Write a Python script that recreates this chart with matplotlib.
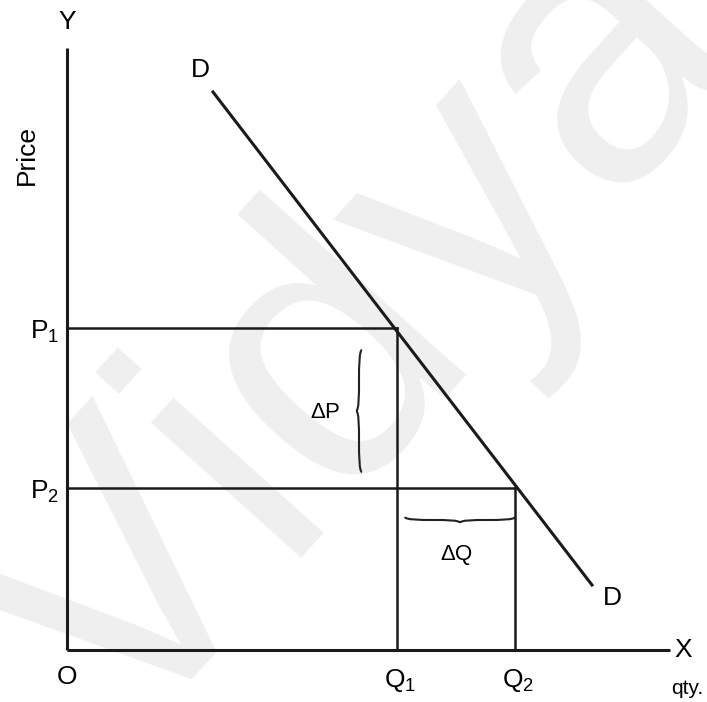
import numpy as np
import matplotlib.pyplot as plt
from matplotlib.path import Path
from matplotlib.patches import PathPatch

plt.rcParams['font.family'] = ['Liberation Sans', 'DejaVu Sans']
plt.rcParams['mathtext.default'] = 'regular'

# demand curve end points (quantity, price)
demand_q = [14.6, 52.5]
demand_p = [55.8, 6.5]

# the two price / quantity points on the curve
price_labels = ['P$_1$', 'P$_2$']
prices = [32.2, 16.2]
qty_labels = ['Q$_1$', 'Q$_2$']
quantities = [33.0, 44.8]

x_max = 60.3
y_max = 60.2


def brace(ax, x0, y0, x1, y1, depth, lw=1.5):
    # curly brace from (x0,y0) to (x1,y1), cusp pushed sideways by depth
    p0 = np.array([x0, y0], float)
    p1 = np.array([x1, y1], float)
    d = p1 - p0
    n = np.array([-d[1], d[0]]) / np.hypot(*d) * depth
    m = (p0 + p1) / 2
    q1 = p0 + d * 0.25 + n * 0.5
    q2 = p1 - d * 0.25 + n * 0.5
    verts = [p0, p0 + n * 0.45, q1 - d * 0.12, q1,
             q1 + d * 0.12, m + n * 0.5, m + n,
             m + n, m + n * 0.5, q2 - d * 0.12,
             q2, q2 + d * 0.12, p1 + n * 0.45, p1]
    codes = ([Path.MOVETO] + [Path.CURVE4] * 6
             + [Path.MOVETO] + [Path.CURVE4] * 6)
    ax.add_patch(PathPatch(Path(verts, codes), fill=False, lw=lw, color='#222222'))


fig = plt.figure(figsize=(7.07, 7.02), dpi=100)
ax = fig.add_axes([0, 0, 1, 1])
ax.set_xlim(-6.7, 64.0)
ax.set_ylim(-5.2, 65.0)
ax.axis('off')

# watermark
ax.text(29.5, 31.0, 'Vidya', fontsize=275, rotation=48, color='#efefef',
        ha='center', va='center', zorder=0, clip_on=True)

lc = '#1a1a1a'
# axes
ax.plot([0, 0], [0, y_max], color=lc, lw=2.2, solid_capstyle='butt')
ax.plot([0, x_max], [0, 0], color=lc, lw=2.2, solid_capstyle='butt')

# demand curve
ax.plot(demand_q, demand_p, color=lc, lw=2.2)

# guide lines
for q, p in zip(quantities, prices):
    ax.plot([0, q], [p, p], color=lc, lw=1.8)
    ax.plot([q, q], [0, p], color=lc, lw=1.8)

# braces
brace(ax, 29.5, prices[0] - 2.2, 29.5, prices[1] + 1.6, -0.6)
brace(ax, quantities[0] + 0.8, prices[1] - 2.9, quantities[1], prices[1] - 2.9, -0.6)

fs = 19
ax.text(0, 62.8, 'Y', fontsize=fs, ha='center', va='center')
ax.text(-4.0, 49.5, 'Price', fontsize=fs, rotation=90, ha='center', va='center')
ax.text(61.6, 0, 'X', fontsize=fs, ha='center', va='center')
ax.text(62.0, -3.8, 'qty.', fontsize=15, ha='center', va='center')
ax.text(0, -2.7, 'O', fontsize=fs, ha='center', va='center')
ax.text(demand_q[0] - 1.3, demand_p[0] + 2.2, 'D', fontsize=fs, ha='center', va='center')
ax.text(demand_q[1] + 2.0, demand_p[1] - 1.3, 'D', fontsize=fs, ha='center', va='center')

for lab, p in zip(price_labels, prices):
    ax.text(-2.2, p - 0.4, lab, fontsize=fs, ha='center', va='center')
for lab, q in zip(qty_labels, quantities):
    ax.text(q + 0.3, -3.0, lab, fontsize=fs, ha='center', va='center')

ax.text(25.8, 23.7, '$\\Delta$P', fontsize=16, ha='center', va='center')
ax.text(39.0, 9.5, '$\\Delta$Q', fontsize=16, ha='center', va='center')

fig.savefig('out.png', dpi=100)
